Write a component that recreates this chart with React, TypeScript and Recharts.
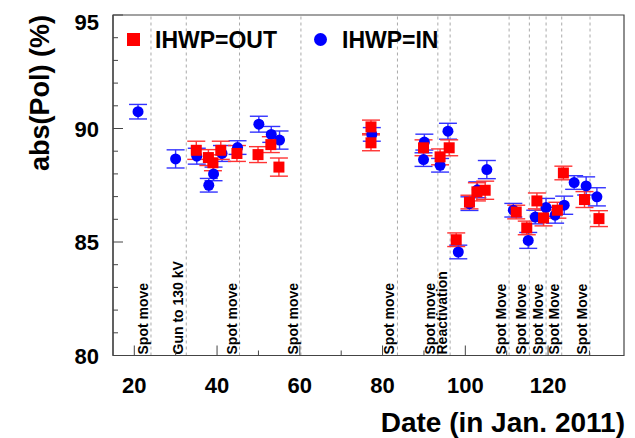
import React from 'react';
import { ScatterChart, Scatter, XAxis, YAxis, ErrorBar, ReferenceLine, ReferenceArea } from 'recharts';

// IHWP=OUT (red squares)
const outX = [34.98, 37.9, 39.0, 40.9, 44.8, 49.9, 53.0, 54.95, 77.2, 77.2, 89.9, 93.9, 96.1, 97.8, 101.0, 102.8, 104.8, 112.3, 114.85, 117.3, 118.9, 122.25, 123.7, 128.8, 132.3];
const outY = [89.04, 88.72, 88.49, 89.04, 88.9, 88.85, 89.29, 88.3, 90.07, 89.37, 89.15, 88.75, 89.15, 85.1, 86.76, 87.21, 87.28, 86.32, 85.62, 86.81, 86.06, 86.4, 88.04, 86.87, 86.03];
const outErr = [0.4, 0.35, 0.35, 0.4, 0.35, 0.35, 0.35, 0.4, 0.3, 0.35, 0.35, 0.35, 0.35, 0.3, 0.3, 0.4, 0.4, 0.3, 0.3, 0.35, 0.35, 0.35, 0.3, 0.35, 0.35];

// IHWP=IN (blue circles)
const inX = [20.9, 29.98, 35.1, 38.0, 39.15, 41.2, 44.95, 50.1, 53.1, 55.1, 77.4, 90.1, 89.9, 93.9, 95.8, 98.3, 101.0, 102.9, 105.2, 111.6, 115.2, 116.9, 119.5, 121.7, 123.9, 126.3, 129.2, 131.8];
const inY = [90.74, 88.66, 88.78, 87.5, 88.0, 88.9, 89.16, 90.19, 89.74, 89.49, 89.74, 89.4, 88.63, 88.38, 89.88, 84.56, 86.69, 87.3, 88.19, 86.4, 85.07, 86.1, 86.52, 86.18, 86.62, 87.62, 87.47, 86.99];
const inErr = [0.32, 0.4, 0.35, 0.3, 0.3, 0.35, 0.3, 0.35, 0.35, 0.4, 0.3, 0.35, 0.3, 0.3, 0.35, 0.3, 0.3, 0.35, 0.4, 0.3, 0.35, 0.3, 0.4, 0.35, 0.4, 0.3, 0.4, 0.4];

// event markers
const eventX = [24.03, 32.56, 45.43, 60.27, 83.6, 93.36, 96.33, 110.58, 115.48, 119.52, 123.3, 130.14];
const eventLabels = ['Spot move', 'Gun to 130 kV', 'Spot move', 'Spot move', 'Spot move', 'Spot move', 'Reactivation', 'Spot Move', 'Spot Move', 'Spot Move', 'Spot Move', 'Spot Move'];

const xTicks = [20, 30, 40, 50, 60, 70, 80, 90, 100, 110, 120, 130];
const xLabelTicks = [20, 40, 60, 80, 100, 120];
const yTicks = [80, 81, 82, 83, 84, 85, 86, 87, 88, 89, 90, 91, 92, 93, 94, 95];
const yLabelTicks = [80, 85, 90, 95];

const X_DOMAIN: [number, number] = [14.85, 138.35];
const Y_DOMAIN: [number, number] = [80, 95];

const outData = outX.map((x, i) => ({ x, y: outY[i], err: outErr[i] }));
const inData = inX.map((x, i) => ({ x, y: inY[i], err: inErr[i] }));

const FONT = '"Liberation Sans", Arial, Helvetica, sans-serif';
const AXIS_COLOR = '#444';

const XTick = (props: any) => {
  const { x, y, payload } = props;
  const v = payload.value;
  const major = xLabelTicks.includes(v);
  return (
    <g>
      <line x1={x} x2={x} y1={y} y2={y - (major ? 10 : 5)} stroke={AXIS_COLOR} strokeWidth={1} />
      {major && (
        <text x={x} y={y + 37} textAnchor="middle" fontSize={22} fontWeight="bold" fontFamily={FONT} fill="#000">
          {v}
        </text>
      )}
    </g>
  );
};

const YTick = (props: any) => {
  const { x, y, payload } = props;
  const v = payload.value;
  const major = yLabelTicks.includes(v);
  const shift = v === Y_DOMAIN[1] ? 7 : 0;
  return (
    <g>
      <line x1={x} x2={x + (major ? 10 : 5)} y1={y} y2={y} stroke={AXIS_COLOR} strokeWidth={1} />
      {major && (
        <text x={x - 14} y={y + 8 + shift} textAnchor="end" fontSize={22} fontWeight="bold" fontFamily={FONT} fill="#000">
          {v}
        </text>
      )}
    </g>
  );
};

const makeEventLabel = (text: string) => (props: any) => {
  const vb = props.viewBox || {};
  const bx = vb.x - 3;
  const by = vb.y + vb.height - 1;
  return (
    <text
      transform={`translate(${bx},${by}) rotate(-90)`}
      x={0}
      y={0}
      textAnchor="start"
      fontSize={14}
      fontWeight="bold"
      fontFamily={FONT}
      fill="#000"
    >
      {text}
    </text>
  );
};

const Square = (props: any) => {
  const { cx, cy } = props;
  return <rect x={cx - 5.5} y={cy - 5.5} width={11} height={11} fill="#ff0000" />;
};

const Dot = (props: any) => {
  const { cx, cy } = props;
  return <circle cx={cx} cy={cy} r={5.5} fill="#0000ff" />;
};

export default function App() {
  return (
    <div style={{ position: 'relative', width: 627, height: 430, fontFamily: FONT }}>
      <ScatterChart width={627} height={430} margin={{ top: 7, right: 11, bottom: 81.5, left: 104 }}>
        <XAxis
          type="number"
          dataKey="x"
          domain={X_DOMAIN}
          allowDataOverflow
          ticks={xTicks}
          interval={0}
          height={1}
          tickSize={0}
          tickMargin={0}
          axisLine={{ stroke: AXIS_COLOR, strokeWidth: 1.2 }}
          tickLine={false}
          tick={(p: any) => <XTick {...p} />}
        />
        <YAxis
          type="number"
          dataKey="y"
          domain={Y_DOMAIN}
          allowDataOverflow
          ticks={yTicks}
          interval={0}
          width={1}
          tickSize={0}
          tickMargin={0}
          axisLine={{ stroke: AXIS_COLOR, strokeWidth: 1.2 }}
          tickLine={false}
          tick={(p: any) => <YTick {...p} />}
        />
        <ReferenceArea
          x1={X_DOMAIN[0]}
          x2={X_DOMAIN[1]}
          y1={Y_DOMAIN[0]}
          y2={Y_DOMAIN[1]}
          ifOverflow="visible"
          fill="none"
          fillOpacity={0}
          stroke={AXIS_COLOR}
          strokeWidth={1.2}
          strokeOpacity={1}
        />
        {eventX.map((ex, i) => (
          <ReferenceLine
            key={'ev' + i}
            x={ex}
            stroke="#aaa"
            strokeWidth={1}
            strokeDasharray="3 3"
            label={makeEventLabel(eventLabels[i])}
          />
        ))}
        <Scatter data={inData} shape={(p: any) => <Dot {...p} />} isAnimationActive={false}>
          <ErrorBar dataKey="err" direction="y" width={9} stroke="#3333ff" strokeWidth={1.4} isAnimationActive={false} />
        </Scatter>
        <Scatter data={outData} shape={(p: any) => <Square {...p} />} isAnimationActive={false}>
          <ErrorBar dataKey="err" direction="y" width={9} stroke="#ff3333" strokeWidth={1.4} isAnimationActive={false} />
        </Scatter>
      </ScatterChart>

      {/* legend */}
      <div style={{ position: 'absolute', left: 119, top: 25, width: 13, height: 13, background: '#ff0000' }} />
      <div style={{ position: 'absolute', left: 147, top: 31.5, transform: 'translateY(-50%)', fontSize: 23, fontWeight: 'bold', lineHeight: 1, whiteSpace: 'nowrap' }}>IHWP=OUT</div>
      <div style={{ position: 'absolute', left: 306, top: 25, width: 13, height: 13, borderRadius: '50%', background: '#0000ff' }} />
      <div style={{ position: 'absolute', left: 334, top: 31.5, transform: 'translateY(-50%)', fontSize: 23, fontWeight: 'bold', lineHeight: 1, whiteSpace: 'nowrap' }}>IHWP=IN</div>

      {/* axis titles */}
      <div style={{ position: 'absolute', left: 32, top: 85, transform: 'translate(-50%, -50%) rotate(-90deg)', fontSize: 27, fontWeight: 'bold', lineHeight: 1, whiteSpace: 'nowrap' }}>abs(Pol) (%)</div>
      <div style={{ position: 'absolute', right: 10, top: 415, transform: 'translateY(-50%)', fontSize: 28, fontWeight: 'bold', lineHeight: 1, whiteSpace: 'nowrap' }}>Date (in Jan. 2011)</div>
    </div>
  );
}
